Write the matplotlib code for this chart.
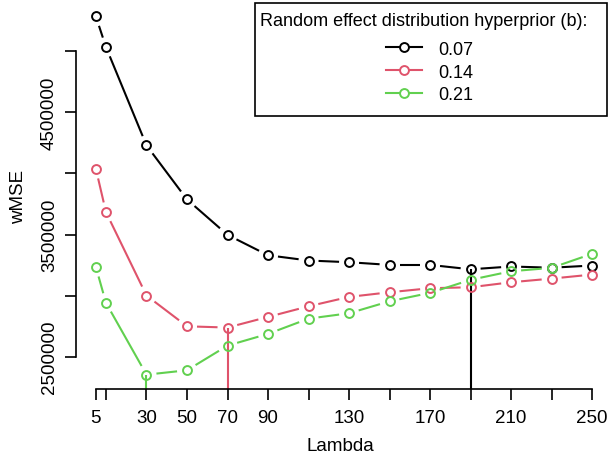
import numpy as np
import matplotlib
matplotlib.use("Agg")
import matplotlib.pyplot as plt
from matplotlib.collections import LineCollection
from matplotlib.lines import Line2D
from matplotlib.patches import Rectangle

plt.rcParams['font.family'] = ['Liberation Sans', 'DejaVu Sans']

# данные
lam = [5, 10, 30, 50, 70, 90, 110, 130, 150, 170, 190, 210, 230, 250]
wmse_007 = [5287000, 5035000, 4230000, 3787000, 3497000, 3330000, 3287000,
            3273000, 3251000, 3251000, 3215000, 3238000, 3228000, 3246000]
wmse_014 = [4039000, 3683000, 3000000, 2748000, 2738000, 2825000, 2912000,
            2989000, 3027000, 3060000, 3068000, 3109000, 3139000, 3172000]
wmse_021 = [3235000, 2940000, 2352000, 2388000, 2590000, 2686000, 2811000,
            2855000, 2953000, 3022000, 3129000, 3199000, 3227000, 3342000]
series_names = ['0.07', '0.14', '0.21']
colors = ['#000000', '#DF536B', '#61D04F']

xtick_labels = ['5', '', '30', '50', '70', '90', '', '130', '', '170', '', '210', '', '250']
yticks = [2500000, 3000000, 3500000, 4000000, 4500000, 5000000]
ytick_labels = ['2500000', '', '3500000', '', '4500000', '']

W, H = 608, 460
fig = plt.figure(figsize=(W / 100, H / 100), dpi=100)
# область графика как в R (правый край чуть за картинкой)
ax = fig.add_axes([76 / W, (H - 390) / H, (612 - 76) / W, (390 - 3) / H])

allv = np.concatenate([wmse_007, wmse_014, wmse_021])
xr = max(lam) - min(lam)
yr = allv.max() - allv.min()
ax.set_xlim(min(lam) - 0.04 * xr, max(lam) + 0.04 * xr)
ax.set_ylim(allv.min() - 0.04 * yr, allv.max() + 0.04 * yr)

lw = 1.5
ms, mew = 6.4, 1.4
gap = 10  # px, разрыв линии вокруг точки (type="b")
for vals, c in zip([wmse_007, wmse_014, wmse_021], colors):
    pts = ax.transData.transform(np.column_stack([lam, vals]))
    segs = []
    for p0, p1 in zip(pts[:-1], pts[1:]):
        d = p1 - p0
        L = np.hypot(*d)
        if L > 2 * gap:
            a = p0 + d / L * gap
            b = p1 - d / L * gap
            segs.append(ax.transData.inverted().transform(np.array([a, b])))
    ax.add_collection(LineCollection(segs, colors=c, linewidths=lw, capstyle='butt'))
    i = int(np.argmin(vals))
    ax.vlines(lam[i], ax.get_ylim()[0], vals[i], color=c, lw=lw)
    ax.plot(lam, vals, ls='none', marker='o', ms=ms, mfc='none', mec=c, mew=mew)

for s in ['top', 'right']:
    ax.spines[s].set_visible(False)
ax.spines['left'].set_bounds(2500000, 5000000)
ax.spines['bottom'].set_bounds(min(lam), max(lam))
for s in ['left', 'bottom']:
    ax.spines[s].set_linewidth(1.2)

fs = 13.5
ax.set_xticks(lam)
ax.set_xticklabels(xtick_labels)
ax.set_yticks(yticks)
ax.set_yticklabels(ytick_labels, rotation=90, va='center')
ax.tick_params(direction='out', length=8, width=1.2, labelsize=fs)
ax.tick_params(axis='x', pad=6.5)
ax.tick_params(axis='y', pad=5)

ax.set_xlabel('Lambda', fontsize=fs)
ax.xaxis.set_label_coords((340 - 76) / (612 - 76), -(447 - 390) / 387)
ax.xaxis.label.set_va('center')
ax.set_ylabel('wMSE', fontsize=fs)
ax.yaxis.set_label_coords(-(76 - 19) / (612 - 76), 0.5)
ax.yaxis.label.set_va('center')

# легенда: рамка, заголовок и строки отдельно, как в R
fig.add_artist(Rectangle((255 / W, 1 - 117 / H), (607 - 255) / W, (117 - 4) / H,
                         transform=fig.transFigure, facecolor='white',
                         edgecolor='black', lw=1.2, zorder=5))
fig.text(260 / W, 1 - 26.5 / H, 'Random effect distribution hyperprior (b):',
         fontsize=13, ha='left', va='baseline', zorder=6)
handles = [Line2D([], [], color=c, lw=lw, marker='o', ms=ms, mfc='white', mec=c, mew=mew)
           for c in colors]
leg = fig.legend(handles, series_names, loc='center left',
                 bbox_to_anchor=(386 / W, 1 - 73 / H), fontsize=13,
                 handlelength=2.02, handletextpad=0.85, labelspacing=0.32,
                 borderpad=0, borderaxespad=0, frameon=False, numpoints=1)
leg.set_zorder(7)

fig.savefig('out.png', dpi=100)
